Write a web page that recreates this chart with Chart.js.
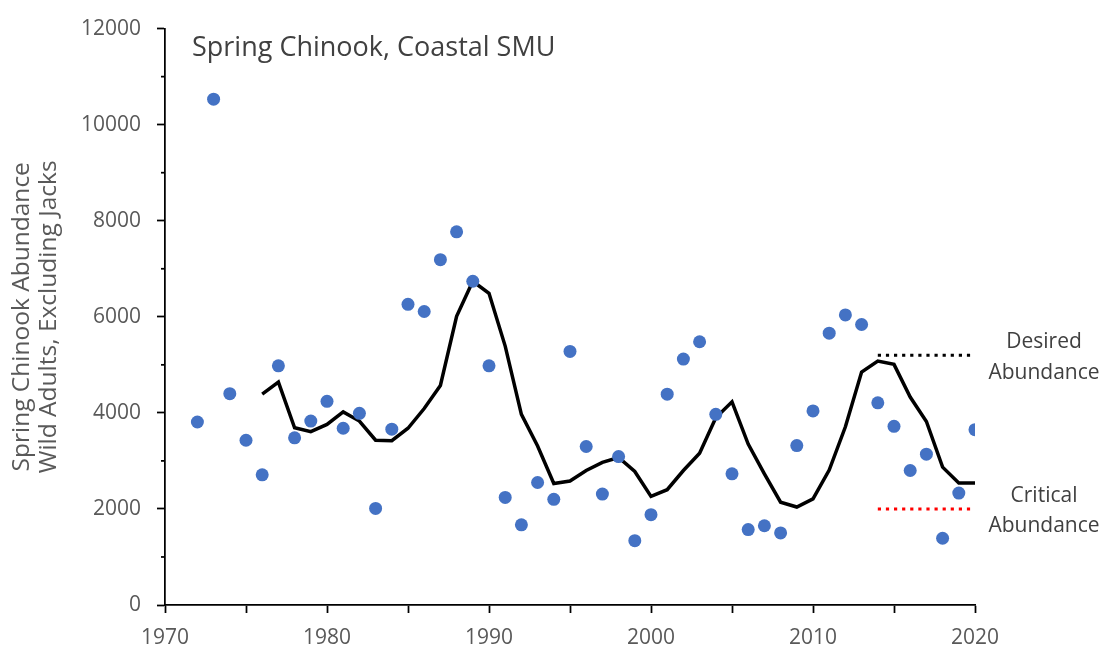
<!DOCTYPE html>
<html>
<head>
<meta charset="utf-8">
<script src="https://cdn.jsdelivr.net/npm/chart.js@4/dist/chart.umd.min.js"></script>
<style>
  html, body { margin: 0; padding: 0; background: #ffffff; }
  #wrap { width: 1102px; height: 647px; }
</style>
</head>
<body>
<div id="wrap"><canvas id="c" width="1102" height="647"></canvas></div>
<script>
// Annual wild adult spring Chinook abundance (excluding jacks), Coastal SMU
const years = [1972,1973,1974,1975,1976,1977,1978,1979,1980,1981,1982,1983,1984,1985,1986,1987,1988,1989,1990,1991,1992,1993,1994,1995,1996,1997,1998,1999,2000,2001,2002,2003,2004,2005,2006,2007,2008,2009,2010,2011,2012,2013,2014,2015,2016,2017,2018,2019,2020];
const abundance = [3810,10530,4400,3430,2710,4980,3480,3830,4240,3680,3990,2010,3660,6260,6110,7190,7770,6740,4980,2240,1670,2550,2200,5280,3300,2310,3090,1340,1880,4390,5120,5480,3970,2730,1570,1650,1500,3320,4040,5660,6040,5840,4210,3720,2800,3140,1390,2330,3650];

// Running mean of abundance
const meanYears = [1976,1977,1978,1979,1980,1981,1982,1983,1984,1985,1986,1987,1988,1989,1990,1991,1992,1993,1994,1995,1996,1997,1998,1999,2000,2001,2002,2003,2004,2005,2006,2007,2008,2009,2010,2011,2012,2013,2014,2015,2016,2017,2018,2019,2020];
const runningMean = [4390,4640,3690,3610,3760,4020,3830,3430,3420,3680,4090,4570,6010,6740,6490,5390,3970,3310,2530,2580,2800,2970,3070,2780,2260,2400,2800,3160,3900,4230,3350,2730,2140,2040,2210,2810,3710,4850,5080,5010,4330,3820,2870,2540,2540];

// Reference levels
const refYears = [2014, 2020];
const desiredAbundance = 5200;
const criticalAbundance = 2000;

const chartTitle = 'Spring Chinook, Coastal SMU';
const yTitle = ['Spring Chinook Abundance', 'Wild Adults, Excluding Jacks'];

const FONT = "'Open Sans', 'Noto Sans', sans-serif";
const AXIS_W = 1.75;

const toXY = (xs, ys) => xs.map((x, i) => ({ x: x, y: ys[i] }));

// Minor y ticks, chart title and reference-level labels
const annotations = {
  id: 'annotations',
  afterDraw(chart) {
    const { ctx, chartArea, scales } = chart;
    const y = scales.y;
    ctx.save();
    // minor ticks at odd thousands
    ctx.strokeStyle = '#000000';
    ctx.lineWidth = AXIS_W;
    for (let v = 1000; v < 12000; v += 2000) {
      const py = y.getPixelForValue(v);
      ctx.beginPath();
      ctx.moveTo(chartArea.left - 4, py);
      ctx.lineTo(chartArea.left, py);
      ctx.stroke();
    }
    // title inside the plot
    ctx.fillStyle = '#404040';
    ctx.font = '27px ' + FONT;
    ctx.textAlign = 'left';
    ctx.textBaseline = 'alphabetic';
    ctx.fillText(chartTitle, chartArea.left + 27, 56);
    // level labels
    ctx.font = '21px ' + FONT;
    ctx.textAlign = 'center';
    const cx = chartArea.right + 69;
    const yd = y.getPixelForValue(desiredAbundance);
    ctx.fillText('Desired', cx, yd - 7);
    ctx.fillText('Abundance', cx, yd + 24);
    const yc = y.getPixelForValue(criticalAbundance);
    ctx.fillText('Critical', cx, yc - 6.5);
    ctx.fillText('Abundance', cx, yc + 23.5);
    ctx.restore();
  }
};

new Chart(document.getElementById('c'), {
  type: 'scatter',
  data: {
    datasets: [
      {
        type: 'scatter',
        data: toXY(years, abundance),
        backgroundColor: '#4472C4',
        borderColor: '#4472C4',
        pointRadius: 6.5,
        pointBorderWidth: 0,
        order: 0
      },
      {
        type: 'line',
        data: toXY(meanYears, runningMean),
        borderColor: '#000000',
        borderWidth: 3.5,
        pointRadius: 0,
        tension: 0,
        fill: false,
        order: 1
      },
      {
        type: 'line',
        data: toXY(refYears, [desiredAbundance, desiredAbundance]),
        borderColor: '#000000',
        borderWidth: 3,
        borderDash: [3.2, 4.9],
        borderCapStyle: 'butt',
        pointRadius: 0,
        fill: false,
        order: 2
      },
      {
        type: 'line',
        data: toXY(refYears, [criticalAbundance, criticalAbundance]),
        borderColor: '#FF0000',
        borderWidth: 3,
        borderDash: [3.2, 4.9],
        borderCapStyle: 'butt',
        pointRadius: 0,
        fill: false,
        order: 2
      }
    ]
  },
  options: {
    responsive: false,
    animation: false,
    events: [],
    layout: { padding: { left: 0, right: 127, top: 25, bottom: 0 } },
    plugins: {
      legend: { display: false },
      tooltip: { enabled: false },
      title: { display: false }
    },
    scales: {
      x: {
        type: 'linear',
        min: 1970,
        max: 2020,
        afterFit: (s) => { s.height = 42; },
        border: { display: true, color: '#000000', width: AXIS_W },
        grid: { display: true, drawOnChartArea: false, drawTicks: true, tickLength: 8, tickColor: '#000000', tickWidth: AXIS_W },
        ticks: {
          stepSize: 5,
          padding: 12,
          color: '#595959',
          font: { family: FONT, size: 21 },
          maxRotation: 0,
          autoSkip: false,
          callback: (v) => (v % 10 === 0 ? String(v) : '')
        }
      },
      y: {
        type: 'linear',
        min: 0,
        max: 12000,
        afterFit: (s) => { s.width = 165; },
        border: { display: true, color: '#000000', width: AXIS_W },
        grid: { display: true, drawOnChartArea: false, drawTicks: true, tickLength: 8, tickColor: '#000000', tickWidth: AXIS_W },
        ticks: {
          stepSize: 2000,
          padding: 16,
          color: '#595959',
          font: { family: FONT, size: 21 },
          callback: (v) => String(v)
        },
        title: {
          display: true,
          text: yTitle,
          color: '#595959',
          font: { family: FONT, size: 24.5, lineHeight: 1.1 },
          padding: { top: 9, bottom: 0 }
        }
      }
    }
  },
  plugins: [annotations]
});
</script>
</body>
</html>
